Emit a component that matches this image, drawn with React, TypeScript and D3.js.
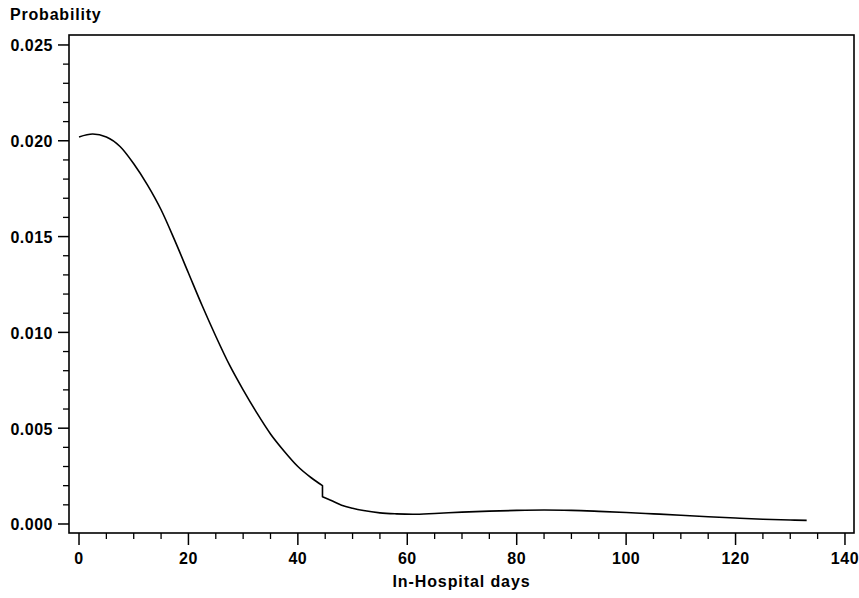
import React from "react";
import * as d3 from "d3";

// Segment before the drop at ~44.5 days
const daysA = [0, 2.5, 5, 7.5, 10, 12.5, 15, 17.5, 20, 22.5, 25, 27.5, 30, 32.5, 35, 37.5, 40, 42.5, 44.5];
const probA = [0.0202, 0.02035, 0.0202, 0.0197, 0.0188, 0.0177, 0.0164, 0.0148, 0.0131, 0.0114, 0.0098, 0.0083, 0.007, 0.0058, 0.0047, 0.0038, 0.003, 0.0024, 0.002];
// Segment after the drop
const daysB = [44.5, 46, 48, 50, 52, 55, 58, 61, 65, 70, 75, 80, 85, 90, 95, 100, 105, 110, 115, 120, 125, 130, 133];
const probB = [0.00142, 0.00124, 0.00098, 0.00082, 0.0007, 0.00058, 0.00053, 0.00051, 0.00055, 0.00062, 0.00067, 0.00071, 0.00073, 0.00071, 0.00066, 0.0006, 0.00053, 0.00046, 0.00038, 0.00031, 0.00025, 0.00021, 0.00019];

const xMajor = [0, 20, 40, 60, 80, 100, 120, 140];
const xMinor = d3.range(0, 141, 5).filter((v) => v % 20 !== 0);
const yMajor = [0, 0.005, 0.01, 0.015, 0.02, 0.025];
const yMinor = d3.range(0, 26).map((i) => i * 0.001).filter((_, i) => i % 5 !== 0);

const xDomain = [-1.83, 141.65];
const yDomain = [-0.00047, 0.02552];

const W = 859;
const H = 598;
const FONT = "'Liberation Sans', Arial, sans-serif";

export default function App() {
  const x = d3.scaleLinear().domain(xDomain).range([69, 854]);
  const y = d3.scaleLinear().domain(yDomain).range([533, 35]);

  const line = d3
    .line<[number, number]>()
    .x((d) => x(d[0]))
    .y((d) => y(d[1]))
    .curve(d3.curveMonotoneX);

  const ptsA = daysA.map((d, i) => [d, probA[i]] as [number, number]);
  const ptsB = daysB.map((d, i) => [d, probB[i]] as [number, number]);
  const pathD = (line(ptsA) || "") + (line(ptsB) || "").replace(/^M/, "L");

  const x0 = x(xDomain[0]);
  const x1 = x(xDomain[1]);
  const yTop = y(yDomain[1]);
  const yBot = y(yDomain[0]);

  return (
    <svg
      width={W}
      height={H}
      style={{ position: "absolute", left: 0, top: 0, background: "#fff" }}
    >
      <rect x={0} y={0} width={W} height={H} fill="#fff" />
      <text x={10} y={20} fontFamily={FONT} fontWeight="bold" fontSize={16} letterSpacing={0.8} fill="#000">
        Probability
      </text>
      {/* frame */}
      <rect x={x0} y={yTop} width={x1 - x0} height={yBot - yTop} fill="none" stroke="#000" strokeWidth={1.6} />
      {/* y ticks */}
      {yMajor.map((v) => (
        <g key={"ym" + v}>
          <line x1={x0 - 11} x2={x0} y1={y(v)} y2={y(v)} stroke="#000" strokeWidth={1.5} />
          <text
            x={x0 - 16}
            y={y(v) + 6.5}
            textAnchor="end"
            fontFamily={FONT}
            fontWeight="bold"
            fontSize={16}
            letterSpacing={0.5}
            fill="#000"
          >
            {v.toFixed(3)}
          </text>
        </g>
      ))}
      {yMinor.map((v) => (
        <line key={"yn" + v} x1={x0 - 6} x2={x0} y1={y(v)} y2={y(v)} stroke="#000" strokeWidth={1.3} />
      ))}
      {/* x ticks */}
      {xMajor.map((v) => (
        <g key={"xm" + v}>
          <line x1={x(v)} x2={x(v)} y1={yBot} y2={yBot + 12} stroke="#000" strokeWidth={1.5} />
          <text
            x={x(v)}
            y={yBot + 30.5}
            textAnchor="middle"
            fontFamily={FONT}
            fontWeight="bold"
            fontSize={16}
            letterSpacing={0.5}
            fill="#000"
          >
            {v}
          </text>
        </g>
      ))}
      {xMinor.map((v) => (
        <line key={"xn" + v} x1={x(v)} x2={x(v)} y1={yBot} y2={yBot + 6} stroke="#000" strokeWidth={1.3} />
      ))}
      <text
        x={(x0 + x1) / 2}
        y={587}
        textAnchor="middle"
        fontFamily={FONT}
        fontWeight="bold"
        fontSize={16}
        letterSpacing={0.9}
        fill="#000"
      >
        In-Hospital days
      </text>
      <path d={pathD} fill="none" stroke="#000" strokeWidth={1.6} strokeLinejoin="round" />
    </svg>
  );
}
